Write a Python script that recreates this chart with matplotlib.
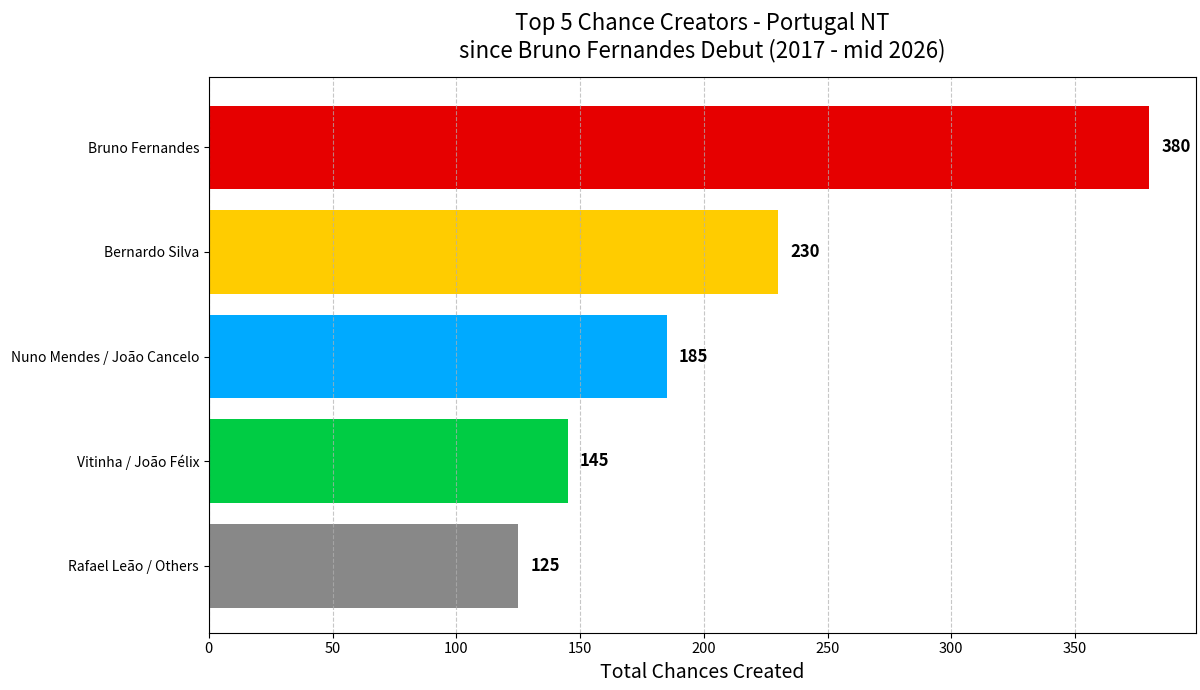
"""Top 5 chance creators - Portugal NT."""

import matplotlib
matplotlib.use("Agg")
import matplotlib.pyplot as plt

plt.rcParams['font.family'] = ['Noto Sans CJK JP', 'DejaVu Sans']

players = ['Bruno Fernandes', 'Bernardo Silva', 'Nuno Mendes / João Cancelo',
           'Vitinha / João Félix', 'Rafael Leão / Others']
chances = [380, 230, 185, 145, 125]
colors = ['#E60000', '#FFCC00', '#00AAFF', '#00CC44', '#888888']


def plot_chart():
    fig, ax = plt.subplots(figsize=(12, 6.9), dpi=100)
    fig.subplots_adjust(left=0.174, right=0.997, top=0.888, bottom=0.083)

    ax.barh(players, chances, color=colors, height=0.8)
    ax.set_ylim(4.64, -0.67)
    ax.set_xlim(0, max(chances) * 1.05)

    # value labels next to each bar
    for i, v in enumerate(chances):
        ax.text(v + 5, i, str(v), va='center', ha='left',
                fontsize=12, fontweight='bold')

    ax.grid(axis='x', linestyle='--', alpha=0.7)
    ax.set_xlabel('Total Chances Created', fontsize=14)
    ax.set_title('Top 5 Chance Creators - Portugal NT\n'
                 'since Bruno Fernandes Debut (2017 - mid 2026)',
                 fontsize=16, pad=14)
    ax.tick_params(axis='x', labelsize=10.5)
    ax.tick_params(axis='y', labelsize=10)

    fig.savefig('out.png')


if __name__ == "__main__":
    plot_chart()
